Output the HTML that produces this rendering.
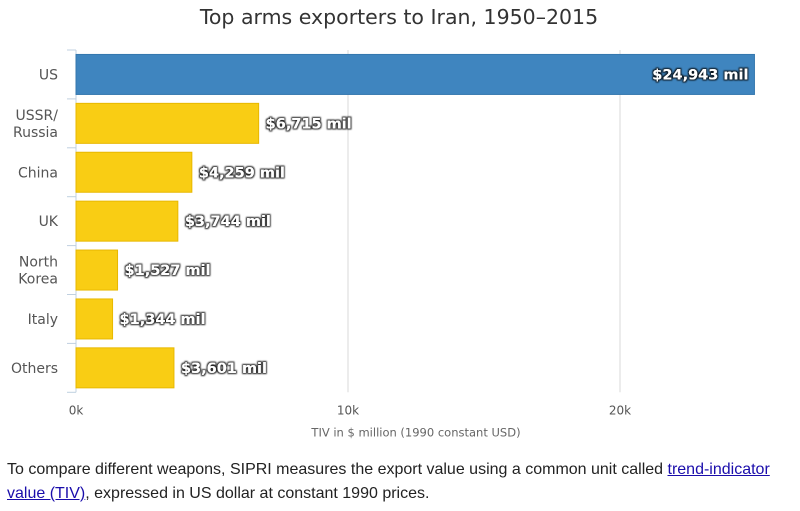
<!DOCTYPE html>
<html><head><meta charset="utf-8">
<style>
body{margin:0;background:#fff;width:800px;height:511px;overflow:hidden;font-family:"Liberation Sans","DejaVu Sans",sans-serif}
#chart{position:absolute;left:0;top:0}
#note{position:absolute;left:7px;top:458px;width:793px;font-size:16px;line-height:24px;color:#222;white-space:nowrap}
#note a{color:#1a0dab;text-decoration:underline}
</style></head><body>
<svg id="chart" width="800" height="450"></svg>
<div id="note">To compare different weapons, SIPRI measures the export value using a common unit called <a href="#">trend-indicator<br>value (TIV)</a>, expressed in US dollar at constant 1990 prices.</div>
<script>
const categories=["US","USSR/\nRussia","China","UK","North\nKorea","Italy","Others"];
const values=[24943,6715,4259,3744,1527,1344,3601];
const labels=["$24,943 mil","$6,715 mil","$4,259 mil","$3,744 mil","$1,527 mil","$1,344 mil","$3,601 mil"];
const ticks=[0,10000,20000];
const tickLabels=["0k","10k","20k"];
const NS="http://www.w3.org/2000/svg";
const svg=document.getElementById('chart');
const X0=76,PX=27.2/1000,TOP=50,ROW=48.9;
const xs=v=>X0+v*PX;
function mk(t,a,txt){const e=document.createElementNS(NS,t);for(const k in a)e.setAttribute(k,a[k]);if(txt!=null)e.textContent=txt;svg.appendChild(e);return e;}
const defs=mk('defs',{});
defs.innerHTML='<filter id="sh" x="-10%" y="-30%" width="120%" height="160%"><feMorphology in="SourceAlpha" operator="dilate" radius="1.2" result="d"/><feGaussianBlur in="d" stdDeviation="0.8" result="b"/><feFlood flood-color="#000" flood-opacity="0.85"/><feComposite in2="b" operator="in"/><feMerge><feMergeNode/><feMergeNode in="SourceGraphic"/></feMerge></filter>';
let t=mk('text',{x:399,y:24,'text-anchor':'middle','font-size':20.5,fill:'#333','font-family':'DejaVu Sans, sans-serif'},'Top arms exporters to Iran, 1950\u20132015');

const bottom=TOP+ROW*categories.length;
ticks.forEach((v,i)=>{
 if(v>0){const g=mk('line',{x1:xs(v),x2:xs(v),y1:TOP,y2:bottom,stroke:'#d8d8d8'});}
 const l=mk('text',{x:xs(v),y:bottom+22,'text-anchor':'middle','font-size':12,fill:'#555','font-family':'DejaVu Sans, sans-serif'},tickLabels[i]);
 
});
const ax=mk('line',{x1:X0,x2:X0,y1:TOP,y2:bottom,stroke:'#c0d0e0'});
for(let i=0;i<=categories.length;i++){const tk=mk('line',{x1:X0-9,x2:X0,y1:TOP+i*ROW,y2:TOP+i*ROW,stroke:'#c0d0e0'});}
const xt=mk('text',{x:xs(12500),y:bottom+44,'text-anchor':'middle','font-size':11.5,fill:'#666','font-family':'DejaVu Sans, sans-serif'},'TIV in $ million (1990 constant USD)');

categories.forEach((c,i)=>{
 const cy=TOP+i*ROW+ROW/2;
 const r=mk('rect',{x:X0,y:cy-20,width:xs(values[i])-X0,height:40,fill:i===0?'#3f85bf':'#f9cd14',stroke:i===0?'#3577ae':'#e8b800'});
 
 const lines=c.split('\n');
 lines.forEach((ln,j)=>{const y=cy+5+(j-(lines.length-1)/2)*17;
  const e=mk('text',{x:58,y:y,'text-anchor':'end','font-size':14,fill:'#555','font-family':'DejaVu Sans, sans-serif'},ln);
  });
 const inside=i===0;
 const dl=mk('text',{x:inside?xs(values[i])-6:xs(values[i])+7,y:cy+5,'text-anchor':inside?'end':'start','font-size':14.5,'font-weight':'bold',fill:'#fff',filter:'url(#sh)','font-family':'DejaVu Sans, sans-serif'},labels[i]);
 
});
</script>
</body></html>
